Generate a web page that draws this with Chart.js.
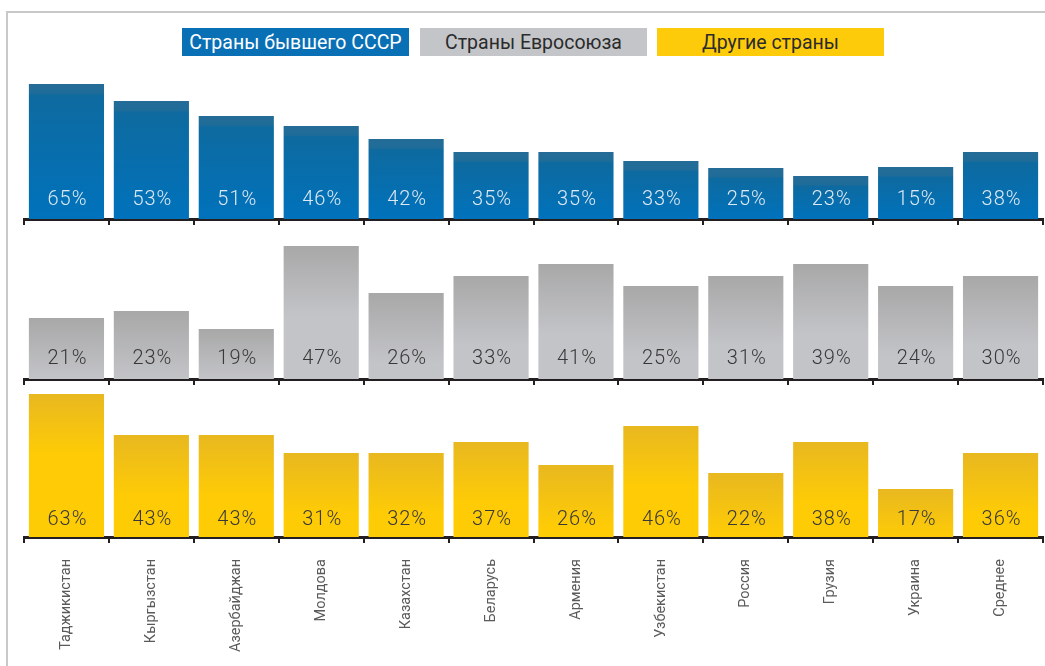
<!DOCTYPE html>
<html>
<head>
<meta charset="utf-8">
<script src="https://cdn.jsdelivr.net/npm/chart.js@4.4.1/dist/chart.umd.min.js"></script>
<style>
  html, body { margin: 0; padding: 0; background: #fff; }
  body { width: 1045px; height: 666px; position: relative; overflow: hidden; font-family: Roboto, "Liberation Sans", Arial, sans-serif; }
  .frame { position: absolute; left: 6px; top: 11px; right: 0; bottom: -10px; border-top: 2px solid #c8c8c8; border-left: 2px solid #c8c8c8; }
  .leg { position: absolute; top: 28px; height: 28px; width: 227px; line-height: 29px; text-align: center; font-size: 19.5px; font-family: Roboto, sans-serif; }
  canvas { position: absolute; left: 0; }
</style>
</head>
<body>
<div class="frame"></div>
<div class="leg" id="leg0" style="left:182px;background:#0a70b6;color:#fff;"></div>
<div class="leg" id="leg1" style="left:420px;background:#c4c5c9;color:#2b2b2b;"></div>
<div class="leg" id="leg2" style="left:657px;background:#fecb0a;color:#2b2b2b;"></div>
<canvas id="c0" width="1045" height="168" style="top:59px"></canvas>
<canvas id="c1" width="1045" height="158" style="top:229px"></canvas>
<canvas id="c2" width="1045" height="279" style="top:387px"></canvas>
<script>
// ---- data ----
const categories = ["Таджикистан", "Кыргызстан", "Азербайджан", "Молдова", "Казахстан", "Беларусь", "Армения", "Узбекистан", "Россия", "Грузия", "Украина", "Среднее"];
const seriesNames = ["Страны бывшего СССР", "Страны Евросоюза", "Другие страны"];
// printed percentages
const labelsSSSR  = [65, 53, 51, 46, 42, 35, 35, 33, 25, 23, 15, 38];
const labelsEU    = [21, 23, 19, 47, 26, 33, 41, 25, 31, 39, 24, 30];
const labelsOther = [63, 43, 43, 31, 32, 37, 26, 46, 22, 38, 17, 36];
// bar lengths as drawn in the picture (not proportional to the printed values)
const barsSSSR  = [67.5, 59, 51.5, 46.5, 40, 33.5, 33.5, 29, 25.5, 21.5, 26, 33.5];
const barsEU    = [30.5, 34, 25, 66.5, 43, 51.5, 57.5, 46.5, 51.5, 57.5, 46.5, 51.5];
const barsOther = [71.5, 51, 51, 42, 42, 47.5, 36, 55.5, 32, 47.5, 24, 42];

seriesNames.forEach((n, i) => document.getElementById('leg' + i).textContent = n);

function makeGradient(ctx, kind) {
  const chart = ctx.chart;
  const area = chart.chartArea;
  const fallback = kind === 'blue' ? '#0a6fb2' : kind === 'gray' ? '#bcbdc1' : '#f8c70c';
  if (!area || ctx.raw == null) return fallback;
  const ys = chart.scales.y;
  const top = ys.getPixelForValue(ctx.raw);
  const bottom = ys.getPixelForValue(0);
  const h = Math.max(bottom - top, 1);
  const g = chart.ctx.createLinearGradient(0, top, 0, bottom);
  if (kind === 'blue') {
    const b = Math.min(9 / h, 0.5);
    g.addColorStop(0, '#246c97');
    g.addColorStop(b, '#1f6c99');
    g.addColorStop(Math.min(b + 0.02, 1), '#0e6a9f');
    g.addColorStop(1, '#0072bc');
  } else if (kind === 'gray') {
    const f = Math.min(70 / h, 1);
    g.addColorStop(0, '#a8a8a8');
    g.addColorStop(f, '#c3c4c8');
    g.addColorStop(1, '#c3c4c8');
  } else {
    const f = Math.min(60 / h, 1);
    g.addColorStop(0, '#e8b820');
    g.addColorStop(f, '#fecb06');
    g.addColorStop(1, '#fecc04');
  }
  return g;
}

const valueLabels = {
  id: 'valueLabels',
  afterDatasetsDraw(chart, args, opts) {
    const ctx = chart.ctx;
    const meta = chart.getDatasetMeta(0);
    ctx.save();
    ctx.font = '300 20px Roboto';
    ctx.letterSpacing = '1px';
    ctx.fillStyle = opts.color;
    ctx.textAlign = 'center';
    ctx.textBaseline = 'alphabetic';
    meta.data.forEach((bar, i) => {
      ctx.fillText(opts.labels[i] + '%', bar.x + 1, chart.chartArea.bottom - opts.offset);
    });
    ctx.restore();
  }
};

function makeChart(id, bars, labels, kind, yMax, axisH, showLabels, txtColor, txtOffset) {
  return new Chart(document.getElementById(id), {
    type: 'bar',
    data: {
      labels: categories,
      datasets: [{
        data: bars,
        backgroundColor: (c) => makeGradient(c, kind),
        borderWidth: 0,
        categoryPercentage: 1,
        barPercentage: 0.885
      }]
    },
    plugins: [valueLabels],
    options: {
      responsive: false,
      animation: false,
      devicePixelRatio: 1,
      layout: { padding: { left: 24, right: 2, top: 0, bottom: 0 } },
      plugins: {
        legend: { display: false },
        tooltip: { enabled: false },
        valueLabels: { labels: labels, color: txtColor, offset: txtOffset }
      },
      scales: {
        y: { display: false, min: 0, max: yMax },
        x: {
          offset: true,
          border: { display: true, color: '#231f20', width: 3 },
          grid: { offset: true, drawOnChartArea: false, drawTicks: true, tickLength: 6, color: '#231f20', lineWidth: 2 },
          ticks: {
            display: showLabels,
            autoSkip: false,
            maxRotation: 90, minRotation: 90,
            padding: 16,
            color: '#5a5a5a',
            font: { family: 'Roboto', size: 14.5, weight: '400' }
          },
          afterFit: (s) => { s.height = axisH; }
        }
      }
    }
  });
}

makeChart('c0', barsSSSR, labelsSSSR, 'blue', 80, 8, false, '#dde9f4', 14);
makeChart('c1', barsEU, labelsEU, 'gray', 75, 8, false, '#383838', 15);
makeChart('c2', barsOther, labelsOther, 'yellow', 75, 129, true, '#383838', 12);
</script>
</body>
</html>
